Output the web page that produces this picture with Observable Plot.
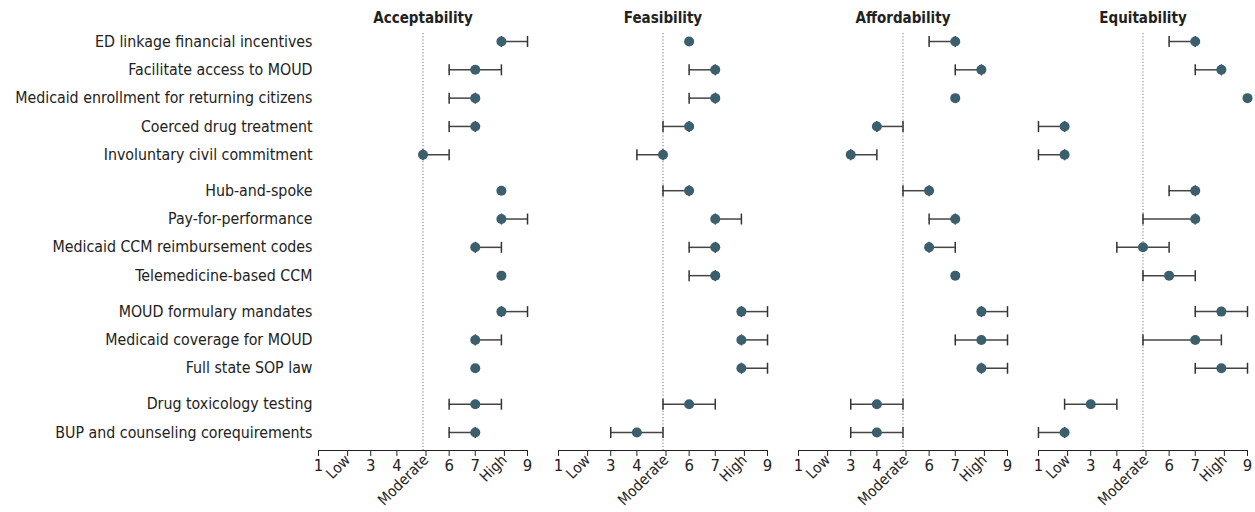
<!DOCTYPE html>
<html><head><meta charset="utf-8">
<script src="https://cdn.jsdelivr.net/npm/d3@7"></script>
<script src="https://cdn.jsdelivr.net/npm/@observablehq/plot@0.6"></script>
<style>
body{margin:0;background:#fff}
#chart svg{font-family:"DejaVu Sans Condensed","DejaVu Sans",sans-serif;font-stretch:condensed}
</style>
</head><body><div id="chart"></div>
<script>
const items = [
  "ED linkage financial incentives",
  "Facilitate access to MOUD",
  "Medicaid enrollment for returning citizens",
  "Coerced drug treatment",
  "Involuntary civil commitment",
  "Hub-and-spoke",
  "Pay-for-performance",
  "Medicaid CCM reimbursement codes",
  "Telemedicine-based CCM",
  "MOUD formulary mandates",
  "Medicaid coverage for MOUD",
  "Full state SOP law",
  "Drug toxicology testing",
  "BUP and counseling corequirements"
];
const groups = [0,0,0,0,0,1,1,1,1,2,2,2,3,3];
const metrics = ["Acceptability","Feasibility","Affordability","Equitability"];

const acceptMedian = [8,7,7,7,5,8,8,7,8,8,7,7,7,7];
const acceptLow    = [8,6,6,6,5,8,8,7,8,8,7,7,6,6];
const acceptHigh   = [9,8,7,7,6,8,9,8,8,9,8,7,8,7];

const feasMedian = [6,7,7,6,5,6,7,7,7,8,8,8,6,4];
const feasLow    = [6,6,6,5,4,5,7,6,6,8,8,8,5,3];
const feasHigh   = [6,7,7,6,5,6,8,7,7,9,9,9,7,5];

const affordMedian = [7,8,7,4,3,6,7,6,7,8,8,8,4,4];
const affordLow    = [6,7,7,4,3,5,6,6,7,8,7,8,3,3];
const affordHigh   = [7,8,7,5,4,6,7,7,7,9,9,9,5,5];

const equitMedian = [7,8,9,2,2,7,7,5,6,8,7,8,3,2];
const equitLow    = [6,7,9,1,1,6,5,4,5,7,5,7,2,1];
const equitHigh   = [7,8,9,2,2,7,7,6,7,9,8,9,4,2];

const scaleTicks  = [1,2,3,4,5,6,7,8,9];
const scaleLabels = ["1","Low","3","4","Moderate","6","7","High","9"];
const moderate = 5;

const series = [
  [acceptMedian, acceptLow, acceptHigh],
  [feasMedian, feasLow, feasHigh],
  [affordMedian, affordLow, affordHigh],
  [equitMedian, equitLow, equitHigh]
];

// row position: row index plus a small gap between groups
const groupGap = 0.27;
const pos = items.map((d, i) => i + groups[i] * groupGap);
const nameByPos = new Map(pos.map((p, i) => [p, items[i]]));

const rows = [];
metrics.forEach((m, k) => {
  items.forEach((it, i) => {
    rows.push({metric: m, item: it, pos: pos[i], median: series[k][0][i], low: series[k][1][i], high: series[k][2][i]});
  });
});
const ranged = rows.filter(d => d.low < d.high);
const caps = ranged.flatMap(d => [{metric: d.metric, pos: d.pos, v: d.low}, {metric: d.metric, pos: d.pos, v: d.high}]);

const yDomain = [d3.min(pos) - 0.283, d3.max(pos) + 0.636];

const vbar = {draw(context, size) { const h = Math.sqrt(size / Math.PI); context.moveTo(0, -h); context.lineTo(0, h); }};

const numTicks = scaleTicks.filter((t, i) => !isNaN(+scaleLabels[i]));
const wordTicks = scaleTicks.filter((t, i) => isNaN(+scaleLabels[i]));
const labelOf = t => scaleLabels[scaleTicks.indexOf(t)];

const chart = Plot.plot({
  width: 1255,
  height: 512,
  marginLeft: 318,
  marginRight: 8,
  marginTop: 33,
  marginBottom: 62,
  style: {fontSize: "14px", color: "#222", background: "#fff"},
  fx: {domain: metrics, paddingInner: 0.129, paddingOuter: 0, round: false, label: null},
  x: {domain: [1, 9]},
  y: {domain: yDomain, range: [33, 450]},
  marks: [
    Plot.ruleX([moderate], {stroke: "#777", strokeDasharray: "1.2,2", strokeWidth: 1}),
    Plot.ruleY([yDomain[1]], {stroke: "#222", strokeWidth: 1.2}),
    Plot.ruleY(ranged, {fx: "metric", y: "pos", x1: "low", x2: "high", stroke: "#444", strokeWidth: 1.5}),
    Plot.dot(caps, {fx: "metric", x: "v", y: "pos", symbol: vbar, r: 5.5, fill: "none", stroke: "#333", strokeWidth: 1.5}),
    Plot.dot(rows, {fx: "metric", x: "median", y: "pos", r: 5, fill: "#3b5f6d"}),
    Plot.axisY({ticks: pos, tickFormat: p => nameByPos.get(p), tickSize: 0, tickPadding: 6, fontSize: 15.8, label: null}),
    Plot.axisX({ticks: numTicks, tickFormat: labelOf, tickSize: 6, tickPadding: 3, fontSize: 16.5, label: null}),
    Plot.axisX({ticks: wordTicks, tickFormat: labelOf, tickSize: 6, tickRotate: -45, tickPadding: 1, dx: 3, fontSize: 15, label: null}),
    Plot.axisFx({anchor: "top", tickSize: 0, tickPadding: 11, fontSize: 15, fontWeight: "bold", label: null})
  ]
});
document.getElementById("chart").appendChild(chart);
</script>
</body></html>
